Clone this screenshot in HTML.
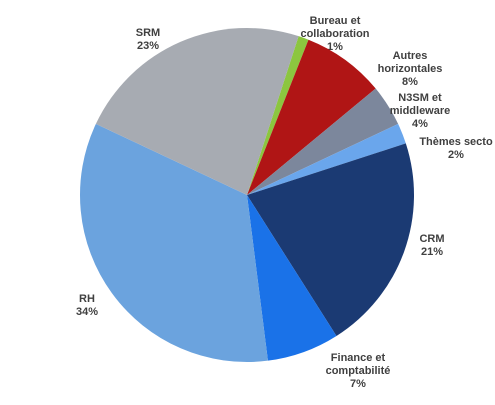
<!DOCTYPE html>
<html><head><meta charset="utf-8"><style>
body{margin:0;background:#fff;width:495px;height:400px;overflow:hidden}
svg text{font-family:"Liberation Sans",sans-serif;font-size:11px;font-weight:bold;fill:#404040;text-anchor:middle}
</style></head><body>
<svg id="c" width="495" height="400"></svg>
<script>
const categories=["Bureau et collaboration","Autres horizontales","N3SM et middleware","Thèmes secto","CRM","Finance et comptabilité","RH","SRM"];
const values=[1,8,4,2,21,7,34,23];
const colors=["#8cc63f","#b01515","#7c879c","#6aa6ec","#1b3a73","#1a72e8","#6ba3de","#a7abb2"];
const labelLines=[["Bureau et","collaboration"],["Autres","horizontales"],["N3SM et","middleware"],["Thèmes secto"],["CRM"],["Finance et","comptabilité"],["RH"],["SRM"]];
const labelPos=[[335,24],[410,59],[420,101],[456,145],[432,242],[358,361],[87,302],[148,36]];
const svg=document.getElementById('c');const NS="http://www.w3.org/2000/svg";
const cx=247,cy=195,r=167;let a=18*Math.PI/180;
const total=values.reduce((s,v)=>s+v,0);
values.forEach((v,i)=>{
 const a2=a+v/total*2*Math.PI;
 const x1=cx+r*Math.sin(a),y1=cy-r*Math.cos(a),x2=cx+r*Math.sin(a2),y2=cy-r*Math.cos(a2);
 const p=document.createElementNS(NS,'path');
 p.setAttribute('d',`M${cx},${cy}L${x1},${y1}A${r},${r} 0 ${a2-a>Math.PI?1:0} 1 ${x2},${y2}Z`);
 p.setAttribute('fill',colors[i]);
 
 
 svg.appendChild(p);a=a2;
 const t=document.createElementNS(NS,'text');
 
 
 const lines=labelLines[i].concat([v+"%"]);
 lines.forEach((l,j)=>{const ts=document.createElementNS(NS,'tspan');ts.setAttribute('x',labelPos[i][0]);ts.setAttribute('y',labelPos[i][1]+j*13);ts.textContent=l;t.appendChild(ts);});
 svg.appendChild(t);
});
</script>
</body></html>
